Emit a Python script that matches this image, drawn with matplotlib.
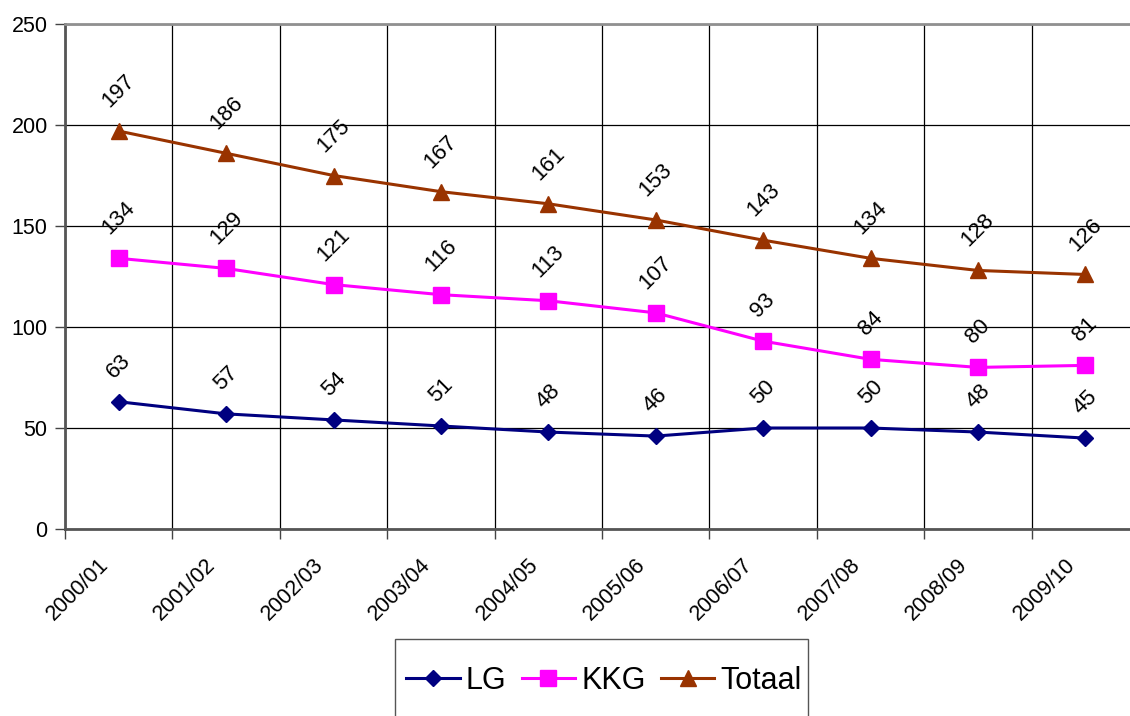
import numpy as np
import matplotlib.pyplot as plt
import matplotlib.transforms as mtransforms
from matplotlib.patches import Rectangle

plt.rcParams['font.family'] = ['Liberation Sans', 'DejaVu Sans']

seasons = ['2000/01', '2001/02', '2002/03', '2003/04', '2004/05',
           '2005/06', '2006/07', '2007/08', '2008/09', '2009/10']
lg = [63, 57, 54, 51, 48, 46, 50, 50, 48, 45]
kkg = [134, 129, 121, 116, 113, 107, 93, 84, 80, 81]
totaal = [197, 186, 175, 167, 161, 153, 143, 134, 128, 126]

series = [
    ('LG', lg, '#000080', 'D', 8.5),
    ('KKG', kkg, '#FF00FF', 's', 11),
    ('Totaal', totaal, '#993300', '^', 12),
]

fig = plt.figure(figsize=(11.3, 7.16), dpi=100)
# plot area runs a little past the right edge of the picture, as in the original
ax = fig.add_axes([65 / 1130, 1 - 529 / 716, (1139 - 65) / 1130, (529 - 24) / 716])

x = np.arange(len(seasons))
for name, vals, col, mk, ms in series:
    ax.plot(x, vals, color=col, lw=2.2, marker=mk, markersize=ms,
            markeredgecolor=col, label=name, clip_on=False, zorder=3)
    for xi, v in zip(x, vals):
        ax.annotate(str(v), (xi, v), xytext=(0, 14), textcoords='offset points',
                    ha='center', va='bottom', rotation=45, fontsize=16)

ax.set_xlim(-0.5, len(seasons) - 0.5)
ax.set_ylim(0, 250)
ax.set_yticks(np.arange(0, 251, 50))
ax.tick_params(axis='y', length=7, width=1, pad=5.5, labelsize=15.5, color='#444444')

ax.set_xticks(x)
ax.set_xticklabels(seasons, rotation=45, ha='right', va='top', fontsize=15.5)
ax.tick_params(axis='x', which='major', length=0, pad=18)
ax.set_xticks(np.arange(-0.5, len(seasons)), minor=True)
ax.tick_params(axis='x', which='minor', length=7, width=1, color='#444444')
shift = mtransforms.ScaledTranslation(-6 / 100, 0, fig.dpi_scale_trans)
for lbl in ax.get_xticklabels():
    lbl.set_transform(lbl.get_transform() + shift)

ax.grid(True, axis='y', which='major', color='black', lw=0.9)
ax.grid(True, axis='x', which='minor', color='black', lw=0.9)
ax.set_axisbelow(True)

ax.spines['left'].set_color('#555555')
ax.spines['left'].set_linewidth(2)
ax.spines['bottom'].set_color('#555555')
ax.spines['bottom'].set_linewidth(2)
ax.spines['top'].set_color('#909090')
ax.spines['top'].set_linewidth(2)
ax.spines['right'].set_color('#909090')

# legend box (its lower part falls outside the picture)
fig.patches.append(Rectangle((395 / 1130, -0.05), (808 - 395) / 1130, 0.05 + (716 - 639) / 716,
                             transform=fig.transFigure, facecolor='white',
                             edgecolor='#555555', lw=1))
leg = fig.legend(loc='center', bbox_to_anchor=(604 / 1130, 1 - 681 / 716),
                 ncol=3, fontsize=22, frameon=False,
                 handlelength=1.75, handletextpad=0.2,
                 columnspacing=0.5, borderaxespad=0, borderpad=0)

fig.savefig('out.png', dpi=100)
